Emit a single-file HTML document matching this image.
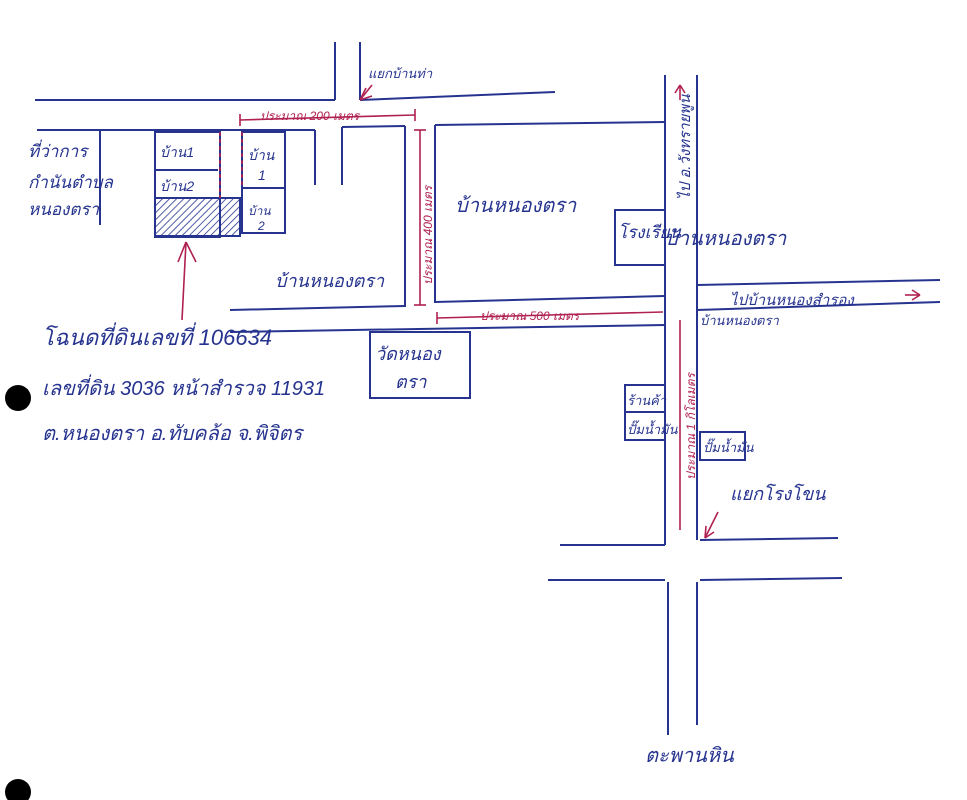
<!DOCTYPE html>
<html><head><meta charset="utf-8"><style>
html,body{margin:0;padding:0;background:#fff;width:967px;height:800px;overflow:hidden}
svg{display:block}
text{font-family:"Liberation Sans","Noto Sans CJK SC",sans-serif;font-style:italic}
.b{fill:#26348f}.r{fill:#b02050}
</style></head><body>
<svg width="967" height="800" viewBox="0 0 967 800">
<defs><pattern id="h" width="5" height="5" patternUnits="userSpaceOnUse" patternTransform="rotate(45)"><line x1="0" y1="0" x2="0" y2="5" stroke="#26348f" stroke-width="1.6"/></pattern></defs>
<g stroke="#26348f" stroke-width="2" fill="none">
<line x1="35" y1="100" x2="335" y2="100"/>
<line x1="360" y1="100" x2="555" y2="92"/>
<line x1="335" y1="42" x2="335" y2="100"/>
<line x1="360" y1="42" x2="360" y2="100"/>
<line x1="37" y1="130" x2="315" y2="130"/>
<line x1="100" y1="130" x2="100" y2="225"/>
<line x1="315" y1="130" x2="315" y2="185"/>
<line x1="342" y1="127" x2="405" y2="126"/>
<line x1="342" y1="127" x2="342" y2="185"/>
<line x1="405" y1="126" x2="405" y2="307"/>
<line x1="230" y1="310" x2="405" y2="306"/>
<line x1="435" y1="125" x2="665" y2="122"/>
<line x1="435" y1="125" x2="435" y2="303"/>
<line x1="435" y1="302" x2="665" y2="296"/>
<line x1="230" y1="332" x2="665" y2="325"/>
<line x1="665" y1="75" x2="665" y2="545"/>
<line x1="697" y1="75" x2="697" y2="540"/>
<line x1="697" y1="285" x2="940" y2="280"/>
<line x1="697" y1="310" x2="940" y2="302"/>
<line x1="560" y1="545" x2="665" y2="545"/>
<line x1="700" y1="540" x2="838" y2="538"/>
<line x1="548" y1="580" x2="665" y2="580"/>
<line x1="700" y1="580" x2="842" y2="578"/>
<line x1="668" y1="582" x2="668" y2="735"/>
<line x1="697" y1="582" x2="697" y2="725"/>
<rect x="155" y="132" width="65" height="105"/>
<line x1="155" y1="170" x2="218" y2="170"/>
<rect x="155" y="198" width="85" height="38" fill="url(#h)"/>
<rect x="242" y="132" width="43" height="101"/>
<line x1="242" y1="188" x2="285" y2="188"/>
<rect x="370" y="332" width="100" height="66"/>
<rect x="615" y="210" width="50" height="55"/>
<rect x="625" y="385" width="40" height="55"/>
<line x1="625" y1="412" x2="665" y2="412"/>
<rect x="700" y="432" width="45" height="28"/>
</g>
<g stroke="#b02050" stroke-width="1.6" fill="none">
<line x1="220" y1="132" x2="220" y2="198" stroke-dasharray="4,3"/>
<line x1="242" y1="132" x2="242" y2="188" stroke-dasharray="4,3"/>
<line x1="240" y1="120" x2="415" y2="115"/><line x1="240" y1="114" x2="240" y2="126"/><line x1="415" y1="109" x2="415" y2="121"/>
<line x1="420" y1="130" x2="420" y2="305"/><line x1="414" y1="130" x2="426" y2="130"/><line x1="414" y1="305" x2="426" y2="305"/>
<line x1="437" y1="318" x2="663" y2="312"/><line x1="437" y1="312" x2="437" y2="324"/>
<line x1="182" y1="320" x2="186" y2="242"/><line x1="186" y1="242" x2="178" y2="262"/><line x1="186" y1="242" x2="196" y2="262"/>
<line x1="360" y1="100" x2="372" y2="85"/><line x1="360" y1="100" x2="366" y2="88"/><line x1="360" y1="100" x2="372" y2="96"/>
<line x1="680" y1="100" x2="680" y2="85"/><line x1="675" y1="93" x2="680" y2="85"/><line x1="685" y1="93" x2="680" y2="85"/>
<line x1="905" y1="295" x2="920" y2="295"/><line x1="912" y1="290" x2="920" y2="295"/><line x1="912" y1="300" x2="920" y2="295"/>
<line x1="718" y1="512" x2="705" y2="538"/><line x1="705" y1="538" x2="706" y2="526"/><line x1="705" y1="538" x2="714" y2="532"/>
<line x1="680" y1="320" x2="680" y2="530"/>
</g>
<circle cx="18" cy="398" r="13" fill="#000"/>
<circle cx="18" cy="792" r="13" fill="#000"/>
<g class="b" font-size="17">
<text x="28" y="157">ที่ว่าการ</text>
<text x="28" y="188">กำนันตำบล</text>
<text x="28" y="215">หนองตรา</text>
<text x="160" y="157" font-size="14">บ้าน1</text>
<text x="160" y="191" font-size="14">บ้าน2</text>
<text x="248" y="160" font-size="14">บ้าน</text><text x="258" y="180" font-size="14">1</text>
<text x="248" y="215" font-size="12">บ้าน</text><text x="258" y="230" font-size="12">2</text>
<text x="368" y="78" font-size="13">แยกบ้านท่า</text>
<text x="275" y="287" font-size="18">บ้านหนองตรา</text>
<text x="455" y="212" font-size="20">บ้านหนองตรา</text>
<text x="618" y="238" font-size="17">โรงเรียน</text>
<text x="665" y="245" font-size="20">บ้านหนองตรา</text>
<text x="375" y="360" font-size="18">วัดหนอง</text>
<text x="395" y="388" font-size="18">ตรา</text>
<text x="42" y="345" font-size="22">โฉนดที่ดินเลขที่ 106634</text>
<text x="42" y="395" font-size="20">เลขที่ดิน 3036 หน้าสำรวจ 11931</text>
<text x="42" y="440" font-size="20">ต.หนองตรา อ.ทับคล้อ จ.พิจิตร</text>
<text x="730" y="305" font-size="15">ไปบ้านหนองสำรอง</text>
<text x="700" y="325" font-size="13">บ้านหนองตรา</text>
<text x="627" y="405" font-size="13">ร้านค้า</text>
<text x="627" y="434" font-size="13">ปั๊มน้ำมัน</text>
<text x="703" y="452" font-size="13">ปั๊มน้ำมัน</text>
<text x="730" y="500" font-size="18">แยกโรงโขน</text>
<text x="645" y="762" font-size="20">ตะพานหิน</text>
<text x="690" y="200" font-size="15" transform="rotate(-90 690 200)">ไป อ.วังทรายพูน</text>
</g>
<g class="r" font-size="12">
<text x="260" y="120">ประมาณ 200 เมตร</text>
<text x="480" y="320">ประมาณ 500 เมตร</text>
<text x="432" y="285" transform="rotate(-90 432 285)">ประมาณ 400 เมตร</text>
<text x="695" y="480" transform="rotate(-90 695 480)">ประมาณ 1 กิโลเมตร</text>
</g>
</svg>
</body></html>
